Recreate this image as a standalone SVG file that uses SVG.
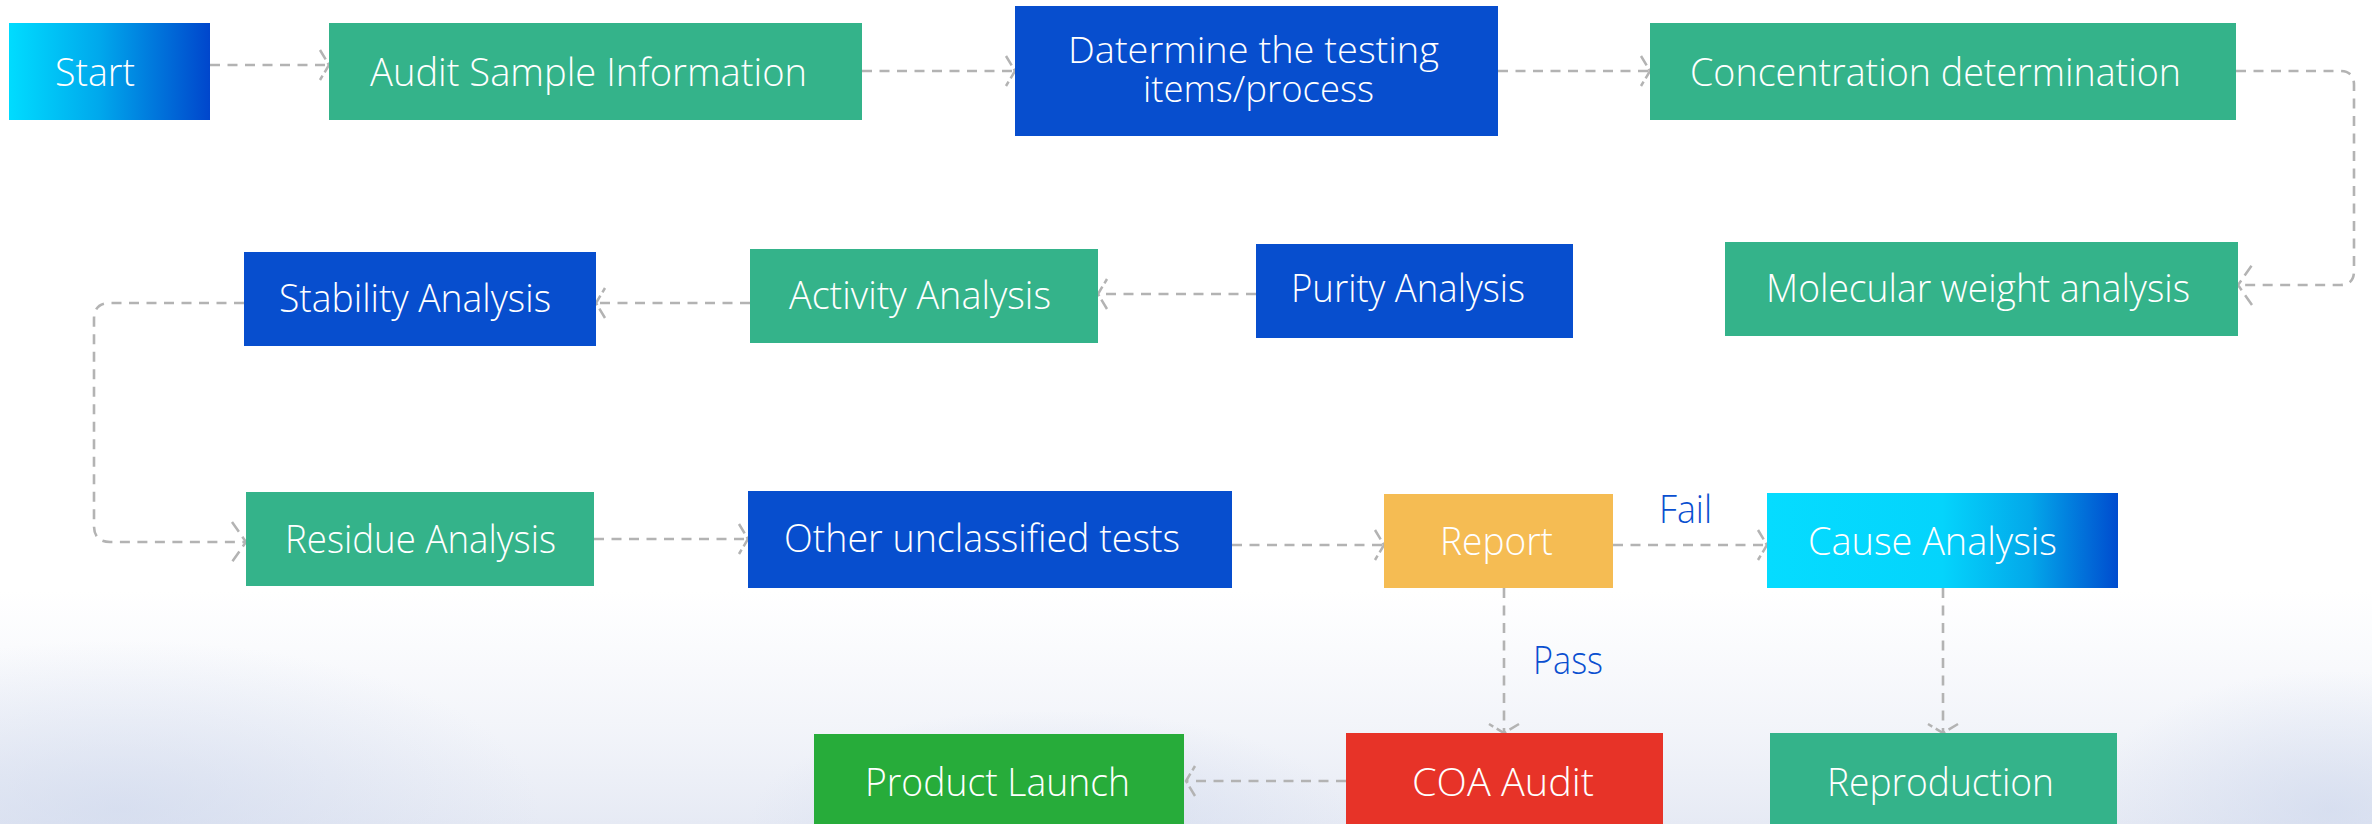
<svg xmlns="http://www.w3.org/2000/svg" width="2372" height="824" viewBox="0 0 2372 824">
  <defs>
    <linearGradient id="gStart" x1="0" y1="0" x2="1" y2="0">
      <stop offset="0" stop-color="#00DCFF"/>
      <stop offset="0.45" stop-color="#00A8EC"/>
      <stop offset="1" stop-color="#0046CC"/>
    </linearGradient>
    <linearGradient id="gCause" x1="0" y1="0" x2="1" y2="0">
      <stop offset="0" stop-color="#05DCFF"/>
      <stop offset="0.5" stop-color="#04D4FC"/>
      <stop offset="0.75" stop-color="#03A8EA"/>
      <stop offset="1" stop-color="#004CCF"/>
    </linearGradient>
    <linearGradient id="gBg" x1="0" y1="0" x2="0" y2="1">
      <stop offset="0" stop-color="#F4F6FB" stop-opacity="0"/>
      <stop offset="0.4" stop-color="#F3F5FA" stop-opacity="0.7"/>
      <stop offset="1" stop-color="#E6EAF4"/>
    </linearGradient>
    <radialGradient id="gBlob" cx="0.5" cy="0.5" r="0.5">
      <stop offset="0" stop-color="#CCD6EC" stop-opacity="0.6"/>
      <stop offset="1" stop-color="#CCD6EC" stop-opacity="0"/>
    </radialGradient>
    <marker id="arr" markerUnits="userSpaceOnUse" orient="auto" overflow="visible" markerWidth="30" markerHeight="40" refX="0" refY="0">
      <path d="M-9,-15 L0,0 L-9,15" fill="none" stroke="#B3B3B3" stroke-width="2.5" stroke-dasharray="11 4"/>
    </marker>
    <marker id="arrBig" markerUnits="userSpaceOnUse" orient="auto" overflow="visible" markerWidth="30" markerHeight="50" refX="0" refY="0">
      <path d="M-14,-20 L0,0 L-14,20" fill="none" stroke="#B3B3B3" stroke-width="2.5" stroke-dasharray="12 6"/>
    </marker>
  </defs>
  <style>
    .lbl { font-family: "Open Sans", "Noto Sans", "Liberation Sans", sans-serif; font-size: 39px; font-weight: 300; fill: #FFFFFF; }
    .sm { font-size: 36px; }
    .cond { font-family: "Open Sans", "Noto Sans", "Liberation Sans", sans-serif; font-size: 39px; font-weight: 300; fill: #0A4FD0; }
    .green { fill: #34B38A; }
    .blue { fill: #074ECE; }
    .conn { fill: none; stroke: #B3B3B3; stroke-width: 2.6; stroke-dasharray: 10 7.5; }
  </style>

  <rect x="0" y="0" width="2372" height="824" fill="#FFFFFF"/>
  <g id="background">
    <rect x="0" y="590" width="2372" height="234" fill="url(#gBg)"/>
    <ellipse cx="120" cy="810" rx="420" ry="170" fill="url(#gBlob)"/>
    <ellipse cx="1050" cy="820" rx="300" ry="110" fill="url(#gBlob)"/>
    <ellipse cx="2330" cy="810" rx="240" ry="140" fill="url(#gBlob)"/>
  </g>

  <g id="connectors">
    <path class="conn" d="M210,65 H329" marker-end="url(#arr)"/>
    <path class="conn" d="M862,71 H1015" marker-end="url(#arr)"/>
    <path class="conn" d="M1498,71 H1650" marker-end="url(#arr)"/>
    <path class="conn" d="M2236,71 H2340 Q2354,71 2354,85 V271 Q2354,285 2340,285 H2238" marker-end="url(#arrBig)"/>
    <path class="conn" d="M1256,294 H1098" marker-end="url(#arr)"/>
    <path class="conn" d="M750,303 H596" marker-end="url(#arr)"/>
    <path class="conn" d="M244,303 H110 Q94,303 94,319 V526 Q94,542 110,542 H246" marker-end="url(#arrBig)"/>
    <path class="conn" d="M594,539 H748" marker-end="url(#arr)"/>
    <path class="conn" d="M1232,545 H1384" marker-end="url(#arr)"/>
    <path class="conn" d="M1613,545 H1767" marker-end="url(#arr)"/>
    <path class="conn" d="M1504,588 V733" marker-end="url(#arr)"/>
    <path class="conn" d="M1943,588 V733" marker-end="url(#arr)"/>
    <path class="conn" d="M1346,781 H1186" marker-end="url(#arr)"/>
    <text class="cond" x="1659" y="523" textLength="53" lengthAdjust="spacingAndGlyphs">Fail</text>
    <text class="cond" x="1533" y="674" textLength="70" lengthAdjust="spacingAndGlyphs">Pass</text>
  </g>

  <g id="start">
    <rect x="9" y="23" width="201" height="97" fill="url(#gStart)"/>
    <text class="lbl" x="55" y="86" textLength="80" lengthAdjust="spacingAndGlyphs">Start</text>
  </g>
  <g id="audit-sample">
    <rect class="green" x="329" y="23" width="533" height="97"/>
    <text class="lbl" x="370" y="86" textLength="437" lengthAdjust="spacingAndGlyphs">Audit Sample Information</text>
  </g>
  <g id="determine">
    <rect class="blue" x="1015" y="6" width="483" height="130"/>
    <text class="lbl sm"><tspan x="1068" y="63" textLength="371" lengthAdjust="spacingAndGlyphs">Datermine the testing</tspan><tspan x="1143" y="102" textLength="231" lengthAdjust="spacingAndGlyphs">items/process</tspan></text>
  </g>
  <g id="concentration">
    <rect class="green" x="1650" y="23" width="586" height="97"/>
    <text class="lbl" x="1690" y="86" textLength="491" lengthAdjust="spacingAndGlyphs">Concentration determination</text>
  </g>
  <g id="molecular">
    <rect class="green" x="1725" y="242" width="513" height="94"/>
    <text class="lbl" x="1766" y="302" textLength="424" lengthAdjust="spacingAndGlyphs">Molecular weight analysis</text>
  </g>
  <g id="purity">
    <rect class="blue" x="1256" y="244" width="317" height="94"/>
    <text class="lbl" x="1291" y="302" textLength="234" lengthAdjust="spacingAndGlyphs">Purity Analysis</text>
  </g>
  <g id="activity">
    <rect class="green" x="750" y="249" width="348" height="94"/>
    <text class="lbl" x="789" y="309" textLength="262" lengthAdjust="spacingAndGlyphs">Activity Analysis</text>
  </g>
  <g id="stability">
    <rect class="blue" x="244" y="252" width="352" height="94"/>
    <text class="lbl" x="279" y="312" textLength="272" lengthAdjust="spacingAndGlyphs">Stability Analysis</text>
  </g>
  <g id="residue">
    <rect class="green" x="246" y="492" width="348" height="94"/>
    <text class="lbl" x="285" y="553" textLength="271" lengthAdjust="spacingAndGlyphs">Residue Analysis</text>
  </g>
  <g id="other">
    <rect class="blue" x="748" y="491" width="484" height="97"/>
    <text class="lbl" x="784" y="552" textLength="396" lengthAdjust="spacingAndGlyphs">Other unclassified tests</text>
  </g>
  <g id="report">
    <rect x="1384" y="494" width="229" height="94" fill="#F5BC53"/>
    <text class="lbl" x="1440" y="555" textLength="113" lengthAdjust="spacingAndGlyphs">Report</text>
  </g>
  <g id="cause">
    <rect x="1767" y="493" width="351" height="95" fill="url(#gCause)"/>
    <text class="lbl" x="1808" y="555" textLength="249" lengthAdjust="spacingAndGlyphs">Cause Analysis</text>
  </g>
  <g id="coa">
    <rect x="1346" y="733" width="317" height="95" fill="#E73328"/>
    <text class="lbl" x="1412" y="796" textLength="182" lengthAdjust="spacingAndGlyphs">COA Audit</text>
  </g>
  <g id="product">
    <rect x="814" y="734" width="370" height="94" fill="#27AC3A"/>
    <text class="lbl" x="865" y="796" textLength="265" lengthAdjust="spacingAndGlyphs">Product Launch</text>
  </g>
  <g id="reproduction">
    <rect class="green" x="1770" y="733" width="347" height="95"/>
    <text class="lbl" x="1827" y="796" textLength="227" lengthAdjust="spacingAndGlyphs">Reproduction</text>
  </g>
</svg>
